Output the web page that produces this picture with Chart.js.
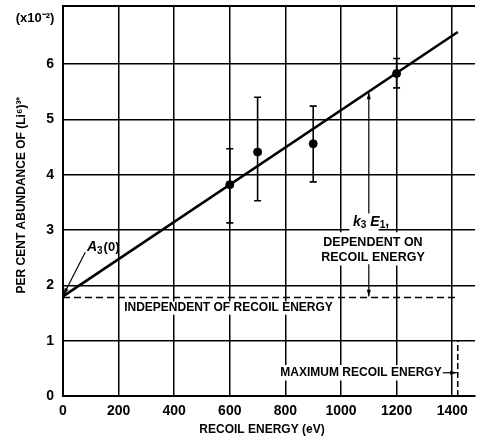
<!DOCTYPE html>
<html>
<head>
<meta charset="utf-8">
<script src="https://cdn.jsdelivr.net/npm/chart.js@4"></script>
<style>
body { margin: 0; background: #fff; }
#wrap { width: 480px; height: 438px; position: relative; }
</style>
</head>
<body>
<div id="wrap"><canvas id="myChart"></canvas></div>
<script>
// measured points, with error bars
var energies = [600, 700, 900, 1200];
var abundance = [3.82, 4.41, 4.56, 5.83];
var errLow = [3.13, 3.53, 3.87, 5.57];
var errHigh = [4.47, 5.40, 5.24, 6.10];
// straight line fit and the constant part
var fitEnergy = [0, 1420];
var fitAbundance = [1.8, 6.58];
var independentLevel = [1.78, 1.78];
var maxRecoil = 1420;
var xTicks = [0, 200, 400, 600, 800, 1000, 1200, 1400];
var yTicks = [0, 1, 2, 3, 4, 5, 6];

var FONT = '"Liberation Sans", Arial, sans-serif';

function pts(xs, ys) {
    return xs.map(function (x, i) { return { x: x, y: ys[i] }; });
}

function arrow(ctx, x1, y1, x2, y2) {
    var a = Math.atan2(y2 - y1, x2 - x1);
    ctx.beginPath();
    ctx.moveTo(x1, y1);
    ctx.lineTo(x2, y2);
    ctx.stroke();
    ctx.beginPath();
    ctx.moveTo(x2, y2);
    ctx.lineTo(x2 - 7 * Math.cos(a - 0.3), y2 - 7 * Math.sin(a - 0.3));
    ctx.lineTo(x2 - 7 * Math.cos(a + 0.3), y2 - 7 * Math.sin(a + 0.3));
    ctx.closePath();
    ctx.fill();
}

// white boxes behind the notes (value coords), so grid lines stop at the text
var notes = [
    { x0: 1030, x1: 1135, y0: 2.96, y1: 3.32 },
    { x0: 935, x1: 1300, y0: 2.36, y1: 2.96 },
    { x0: 215, x1: 975, y0: 1.47, y1: 1.71 },
    { x0: 735, x1: 1370, y0: 0.28, y1: 0.56 }
];

var paperPlugin = {
    id: 'paper',
    beforeDraw: function (chart) {
        var ctx = chart.ctx;
        ctx.save();
        ctx.fillStyle = '#fff';
        ctx.fillRect(0, 0, chart.width, chart.height);
        ctx.restore();
    },
    beforeDatasetsDraw: function (chart) {
        var ctx = chart.ctx, xs = chart.scales.x, ys = chart.scales.y, a = chart.chartArea;
        ctx.save();
        // top border
        ctx.strokeStyle = '#000';
        ctx.lineWidth = 2;
        ctx.beginPath();
        ctx.moveTo(a.left - 1, a.top);
        ctx.lineTo(a.right, a.top);
        ctx.stroke();
        ctx.fillStyle = '#fff';
        notes.forEach(function (n) {
            var px0 = xs.getPixelForValue(n.x0), px1 = xs.getPixelForValue(n.x1);
            var py0 = ys.getPixelForValue(n.y0), py1 = ys.getPixelForValue(n.y1);
            ctx.fillRect(px0, py1, px1 - px0, py0 - py1);
        });
        ctx.restore();
    },
    afterDatasetsDraw: function (chart) {
        var ctx = chart.ctx, xs = chart.scales.x, ys = chart.scales.y;
        var X = function (v) { return xs.getPixelForValue(v); };
        var Y = function (v) { return ys.getPixelForValue(v); };
        ctx.save();
        ctx.strokeStyle = '#000';
        ctx.fillStyle = '#000';

        // error bars
        ctx.lineWidth = 1.6;
        energies.forEach(function (e, i) {
            var px = X(e);
            ctx.beginPath();
            ctx.moveTo(px, Y(errLow[i]));
            ctx.lineTo(px, Y(errHigh[i]));
            ctx.moveTo(px - 3.5, Y(errLow[i]));
            ctx.lineTo(px + 3.5, Y(errLow[i]));
            ctx.moveTo(px - 3.5, Y(errHigh[i]));
            ctx.lineTo(px + 3.5, Y(errHigh[i]));
            ctx.stroke();
        });

        // arrows
        ctx.lineWidth = 1.2;
        arrow(ctx, X(80), Y(2.60), X(2), Y(1.83));
        var slope = (fitAbundance[1] - fitAbundance[0]) / (fitEnergy[1] - fitEnergy[0]);
        var kx = X(1100);
        arrow(ctx, kx, Y(3.30), kx, Y(fitAbundance[0] + slope * 1100) + 1);
        arrow(ctx, kx, Y(2.38), kx, Y(independentLevel[0]) - 1);
        arrow(ctx, X(1366), Y(0.42), X(maxRecoil) - 1, Y(0.42));

        // notes
        ctx.textBaseline = 'middle';
        ctx.font = 'bold 12.5px ' + FONT;
        ctx.textAlign = 'center';
        ctx.fillText('DEPENDENT ON', X(1115), Y(2.78));
        ctx.fillText('RECOIL ENERGY', X(1115), Y(2.50));
        ctx.font = 'bold 12px ' + FONT;
        ctx.textAlign = 'left';
        ctx.fillText('INDEPENDENT OF RECOIL ENERGY', X(220), Y(1.59));
        ctx.textAlign = 'right';
        ctx.fillText('MAXIMUM RECOIL ENERGY', X(1362), Y(0.42));

        // k3 E1,
        ctx.textAlign = 'left';
        var kxt = X(1115) - 20, ky = Y(3.15);
        ctx.font = 'italic bold 14px ' + FONT;
        ctx.fillText('k', kxt, ky);
        kxt += ctx.measureText('k').width;
        ctx.font = 'bold 10px ' + FONT;
        ctx.fillText('3', kxt, ky + 4);
        kxt += ctx.measureText('3').width + 4;
        ctx.font = 'italic bold 14px ' + FONT;
        ctx.fillText('E', kxt, ky);
        kxt += ctx.measureText('E').width;
        ctx.font = 'bold 10px ' + FONT;
        ctx.fillText('1', kxt, ky + 4);
        kxt += ctx.measureText('1').width;
        ctx.font = 'bold 14px ' + FONT;
        ctx.fillText(',', kxt, ky);

        // A3(0)
        var ax = X(86), ay = Y(2.69);
        ctx.font = 'italic bold 14px ' + FONT;
        ctx.fillText('A', ax, ay);
        ax += ctx.measureText('A').width;
        ctx.font = 'bold 10px ' + FONT;
        ctx.fillText('3', ax, ay + 4);
        ax += ctx.measureText('3').width + 1;
        ctx.font = 'bold 13px ' + FONT;
        ctx.fillText('(0)', ax, ay);

        // axis titles and exponent
        ctx.font = 'bold 12px ' + FONT;
        ctx.textAlign = 'center';
        ctx.fillText('RECOIL ENERGY (eV)', 262, 430);
        ctx.font = 'bold 13px ' + FONT;
        ctx.fillText('(x10\u207B\u00B2)', 35, 18);
        ctx.font = 'bold 12px ' + FONT;
        ctx.translate(22, 195);
        ctx.rotate(-Math.PI / 2);
        ctx.fillText('PER CENT ABUNDANCE OF (Li\u2076)\u00B3\u207A', 0, 0);
        ctx.restore();
    }
};

var ctx = document.getElementById('myChart').getContext('2d');

var myChart = new Chart(ctx, {
    type: 'scatter',
    data: {
        datasets: [{
            label: 'measured',
            data: pts(energies, abundance),
            backgroundColor: '#000',
            borderColor: '#000',
            pointRadius: 4
        }, {
            label: 'fit',
            data: pts(fitEnergy, fitAbundance),
            showLine: true,
            borderColor: '#000',
            borderWidth: 2.6,
            pointRadius: 0
        }, {
            label: 'independent',
            data: pts(fitEnergy, independentLevel),
            showLine: true,
            borderColor: '#000',
            borderWidth: 1.5,
            borderDash: [7, 4],
            pointRadius: 0
        }, {
            label: 'max recoil',
            data: pts([maxRecoil, maxRecoil], [0, 1]),
            showLine: true,
            borderColor: '#000',
            borderWidth: 1.5,
            borderDash: [6, 3],
            pointRadius: 0
        }]
    },
    options: {
        responsive: true,
        maintainAspectRatio: false,
        animation: false,
        layout: { padding: { top: 6, right: 0, left: 0, bottom: 0 } },
        plugins: {
            legend: { display: false },
            tooltip: { enabled: false }
        },
        scales: {
            x: {
                type: 'linear',
                min: 0,
                max: 1482,
                afterBuildTicks: function (s) { s.ticks = xTicks.map(function (v) { return { value: v }; }); },
                afterFit: function (s) { s.height = 42; s.paddingLeft = 0; s.paddingRight = 0; },
                grid: { color: '#000', lineWidth: 1.5, drawTicks: false },
                border: { color: '#000', width: 2 },
                ticks: { color: '#000', padding: 7, maxRotation: 0, autoSkip: false,
                         callback: function (v) { return String(v); },
                         font: { family: FONT, size: 14, weight: 'bold' } }
            },
            y: {
                min: 0,
                max: 7.05,
                afterBuildTicks: function (s) { s.ticks = yTicks.map(function (v) { return { value: v }; }); },
                afterFit: function (s) { s.width = 63; s.paddingTop = 0; s.paddingBottom = 0; },
                grid: { color: '#000', lineWidth: 1.5, drawTicks: false },
                border: { color: '#000', width: 2 },
                ticks: { color: '#000', padding: 9,
                         callback: function (v) { return String(v); },
                         font: { family: FONT, size: 14, weight: 'bold' } }
            }
        }
    },
    plugins: [paperPlugin]
});
</script>
</body>
</html>
